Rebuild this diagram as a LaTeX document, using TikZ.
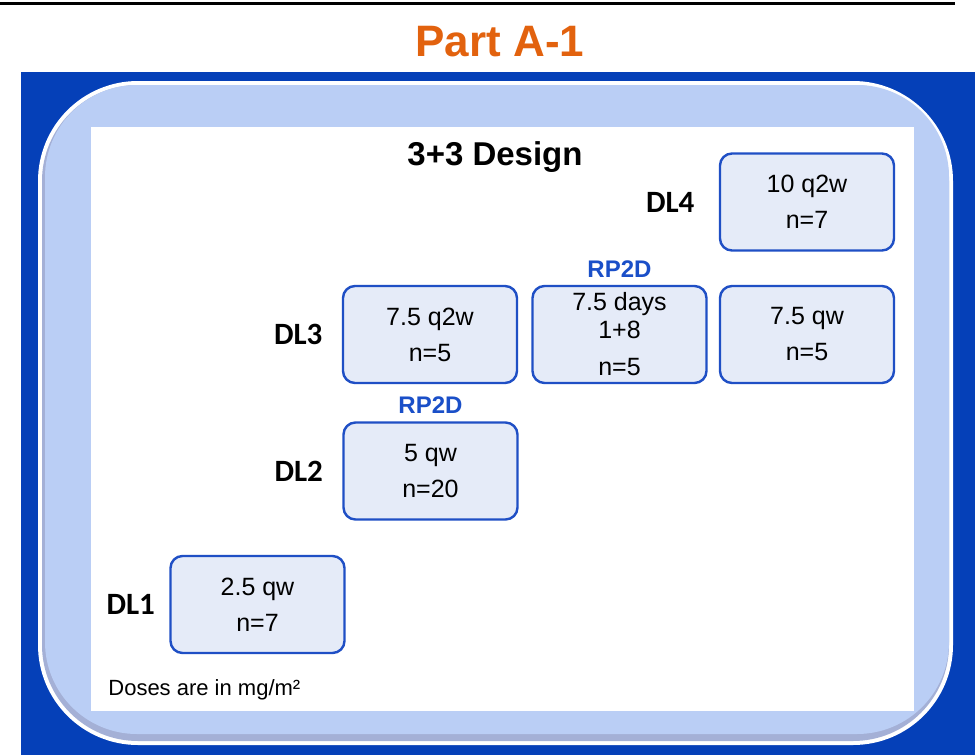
\documentclass[tikz,border=0pt]{standalone}
\usepackage{fontspec}
\setmainfont{Liberation Sans}
\newfontfamily\dlfont{Carlito}
\usetikzlibrary{positioning}
\definecolor{deepblue}{HTML}{0540B8}
\definecolor{paleblue}{HTML}{BACEF5}
\definecolor{shadeblue}{HTML}{A4B0D6}
\definecolor{boxfill}{HTML}{E5EBF8}
\definecolor{boxline}{HTML}{1F4FC5}
\definecolor{rpblue}{HTML}{1A4FC8}
\definecolor{partorange}{HTML}{E2620E}
\begin{document}
\begin{tikzpicture}[x=0.5pt,y=-0.5pt,
  dosebox/.style={draw=boxline, line width=1.2pt, fill=boxfill, rounded corners=6pt,
    minimum width=87pt, minimum height=48.5pt, align=center, font=\fontsize{12.5}{18}\selectfont},
  dllabel/.style={font=\dlfont\bfseries\fontsize{15.5}{18}\selectfont, inner sep=0pt},
  rplabel/.style={font=\bfseries\fontsize{12}{14}\selectfont, text=rpblue, inner sep=0pt}]
\def\backpanel{(21,72) rectangle (975,755)}
\def\outerframe{(38,81) rectangle (953,745)}
\def\shadeframe{(42,85) rectangle (949,741)}
\def\innerframe{(45,85) rectangle (949,734)}
\def\sheet{(91,127) rectangle (914,711)}

\useasboundingbox (0,0) rectangle (975,755);
\draw[line width=1.5pt] (0,3) -- (955,3);
\node[font=\bfseries\fontsize{22}{26}\selectfont, text=partorange] (title) at (500,42) {Part A-1};

% frame behind the design
\fill[deepblue] \backpanel;
\fill[white, rounded corners=50pt] \outerframe;
\fill[shadeblue, rounded corners=48pt] \shadeframe;
\fill[paleblue, rounded corners=46pt] \innerframe;
\fill[white] \sheet;

\node[font=\bfseries\fontsize{16.5}{18}\selectfont] (design) at (495,157) {3+3 Design};

% dose boxes
\node[dosebox] (dlfour) at (807,202) {10 q2w\\n=7};
\node[dosebox] (dlthreea) at (430,334.5) {7.5 q2w\\n=5};
\node[dosebox] (dlthreeb) at (619.5,334.5) {7.5 days\\[-4pt]1+8\\[0.5pt]n=5};
\node[dosebox] (dlthreec) at (807,334.5) {7.5 qw\\n=5};
\node[dosebox] (dltwo) at (430.5,471) {5 qw\\n=20};
\node[dosebox] (dlone) at (257.5,604.5) {2.5 qw\\n=7};

\node[dllabel, left=12pt of dlfour] (lfour) {DL4};
\node[dllabel, left=9.5pt of dlthreea] (lthree) {DL3};
\node[dllabel, left=9.5pt of dltwo] (ltwo) {DL2};
\node[dllabel, left=7pt of dlone] (lone) {DL1};

\node[rplabel, above=3.5pt of dlthreeb] (rpthree) {RP2D};
\node[rplabel, above=3.5pt of dltwo] (rptwo) {RP2D};

\node[anchor=west, inner sep=0pt, font=\fontsize{11}{12}\selectfont] (units) at (108,690) {Doses are in mg/m²};
\end{tikzpicture}
\end{document}
